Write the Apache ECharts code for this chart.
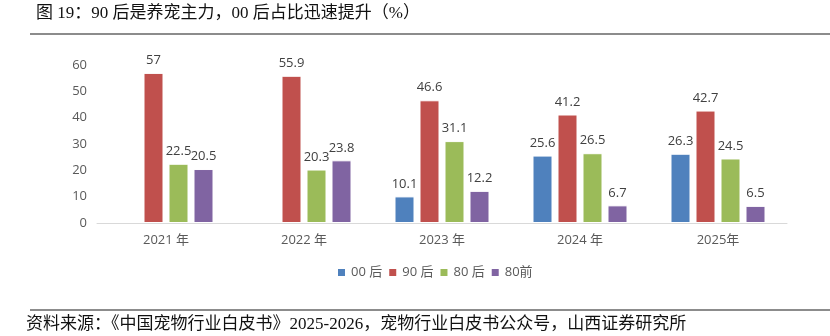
<!DOCTYPE html>
<html><head><meta charset="utf-8">
<script src="https://cdn.jsdelivr.net/npm/echarts@6/dist/echarts.min.js"></script>
<style>html,body{margin:0;padding:0;background:#fff}#c{width:830px;height:336px}</style>
</head><body><div id="c"></div>
<script>
var categories = ['2021 年', '2022 年', '2023 年', '2024 年', '2025年'];
var seriesNames = ['00 后', '90 后', '80 后', '80前'];
var s00 = [null, null, 10.1, 25.6, 26.3];
var s90 = [57, 55.9, 46.6, 41.2, 42.7];
var s80 = [22.5, 20.3, 31.1, 26.5, 24.5];
var s80q = [20.5, 23.8, 12.2, 6.7, 6.5];
var yTicks = [0, 10, 20, 30, 40, 50, 60];
var colors = ['#4F81BD', '#C0504D', '#9BBB59', '#8064A2'];
var values = [s00, s90, s80, s80q];

var chart = echarts.init(document.getElementById('c'));
var series = values.map(function (v, i) {
  return {
    name: seriesNames[i], type: 'bar', data: v, barWidth: 20, barGap: '25%',
    itemStyle: { color: colors[i], borderColor: '#fff', borderWidth: 1 },
    label: { show: true, position: 'top', color: '#404040', fontSize: 13, fontFamily: 'Open Sans, sans-serif', distance: 6 }
  };
});
chart.setOption({
  animation: false,
  color: colors,
  grid: { left: 97, right: 43, top: 65, bottom: 113 },
  legend: {
    data: seriesNames, bottom: 52, left: 331, itemWidth: 9, itemHeight: 9, itemGap: 5,
    icon: 'rect', textStyle: { color: '#595959', fontSize: 13, fontFamily: 'Open Sans, Noto Sans CJK SC, sans-serif' }
  },
  xAxis: {
    type: 'category', data: categories,
    axisLine: { lineStyle: { color: '#D9D9D9' } }, axisTick: { show: false },
    axisLabel: { color: '#595959', fontSize: 13, margin: 11, fontFamily: 'Open Sans, Noto Sans CJK SC, sans-serif' }
  },
  yAxis: {
    type: 'value', min: yTicks[0], max: yTicks[yTicks.length - 1], interval: 10,
    axisLine: { show: false }, axisTick: { show: false }, splitLine: { show: false },
    axisLabel: { color: '#595959', fontSize: 13, margin: 10, fontFamily: 'Open Sans, sans-serif' }
  },
  series: series,
  graphic: [
    { type: 'text', left: 36, top: 5, style: { text: '图 19：90 后是养宠主力，00 后占比迅速提升（%）', fill: '#111', font: '17px "Liberation Serif", "Noto Sans CJK SC", serif' } },
    { type: 'rect', shape: { x: 30, y: 33, width: 800, height: 2 }, style: { fill: '#8C8C8C' } },
    { type: 'rect', shape: { x: 30, y: 309, width: 800, height: 2 }, style: { fill: '#8C8C8C' } },
    { type: 'text', left: 26, top: 316, style: { text: '资料来源：《中国宠物行业白皮书》2025-2026，宠物行业白皮书公众号，山西证券研究所', fill: '#111', font: '17px "Liberation Serif", "Noto Sans CJK SC", serif' } }
  ]
});
</script></body></html>
